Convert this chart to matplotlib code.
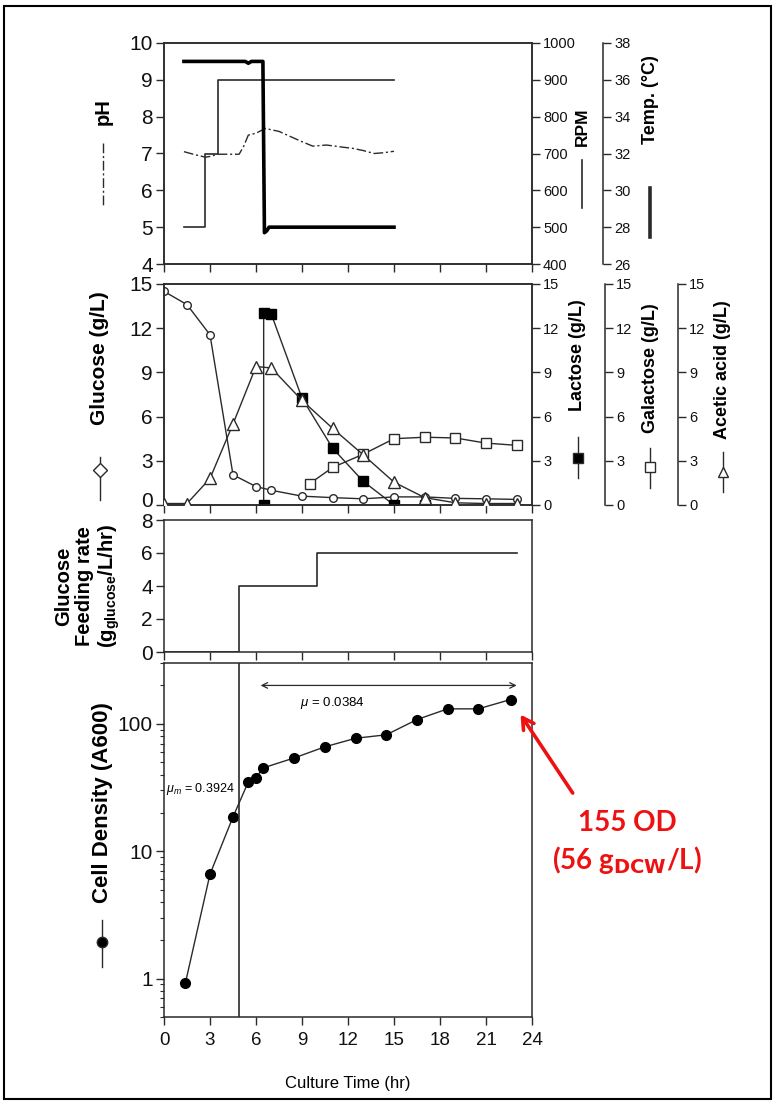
import matplotlib
matplotlib.use("Agg")
import matplotlib.pyplot as plt
import matplotlib.transforms as mtrans
from matplotlib.lines import Line2D
from matplotlib.patches import Rectangle
from matplotlib.ticker import NullFormatter

plt.rcParams['font.family'] = ['Liberation Sans Narrow', 'Liberation Sans', 'DejaVu Sans']
plt.rcParams['mathtext.fontset'] = 'custom'
plt.rcParams['mathtext.rm'] = 'Liberation Sans'
plt.rcParams['mathtext.it'] = 'Liberation Sans:italic'

# ---- panel 1: on-line data (pH, agitation, temperature)
ph_time = [1.3, 2.0, 2.7, 3.0, 3.5, 4.2, 4.9, 5.2, 5.5, 6.0, 6.6, 7.5, 8.3, 9.0, 9.7, 10.6, 11.5, 12.3, 13.0, 13.7, 14.3, 15.0]
ph = [7.05, 6.97, 6.9, 6.92, 6.98, 6.98, 6.98, 7.2, 7.5, 7.55, 7.68, 7.6, 7.45, 7.32, 7.2, 7.23, 7.18, 7.14, 7.08, 7.0, 7.02, 7.06]
rpm_time = [1.3, 2.7, 3.5, 15.0]
rpm = [500, 700, 900, 900]
temp_time = [1.3, 5.3, 5.5, 5.7, 6.45, 6.55, 6.7, 6.85, 15.0]
temp = [37.0, 37.0, 36.9, 37.0, 37.0, 27.7, 27.8, 28.0, 28.0]

# ---- panel 2: off-line metabolites (g/L)
glc_time = [0, 1.5, 3, 4.5, 6, 7, 9, 11, 13, 15, 17, 19, 21, 23]
glucose = [14.5, 13.6, 11.55, 2.05, 1.25, 1.0, 0.6, 0.5, 0.42, 0.55, 0.55, 0.45, 0.42, 0.38]
lac_time = [6.5, 6.5, 7, 9, 11, 13, 15, 17]
lactose = [0, 13.0, 12.95, 7.25, 3.85, 1.6, 0, 0]
gal_time = [9.5, 11, 13, 15, 17, 19, 21, 23]
galactose = [1.45, 2.55, 3.45, 4.5, 4.6, 4.55, 4.2, 4.05]
ace_time = [0, 1.5, 3, 4.5, 6, 7, 9, 11, 13, 15, 17, 19, 21, 23]
acetate = [0.1, 0.1, 1.8, 5.5, 9.4, 9.3, 7.1, 5.2, 3.4, 1.55, 0.5, 0.15, 0.1, 0.1]

# ---- panel 3: glucose feeding rate
feed_time = [0, 4.9, 10, 23]
feed_rate = [0, 4, 6, 6]

# ---- panel 4: cell density
od_time = [1.4, 3.0, 4.5, 5.5, 6.0, 6.45, 8.5, 10.5, 12.5, 14.5, 16.5, 18.5, 20.5, 22.6]
od = [0.93, 6.6, 18.6, 35, 37.5, 45, 54, 66, 77, 82, 108, 131, 131, 155]

xticks = list(range(0, 25, 3))
LC = '#2a2a2a'


def bold(size):
    return dict(family='Liberation Sans', fontweight='bold', fontsize=size, rotation=90,
                ha='center', va='center')


fig = plt.figure(figsize=(7.75, 11.03), dpi=100)
fig.add_artist(Rectangle((0.005, 0.004), 0.99, 0.991, transform=fig.transFigure,
                         fill=False, lw=1.5, ec='black'))

L, W = 164 / 775, 368 / 775


def panel(top, bottom):
    return fig.add_axes([L, 1 - bottom / 1103, W, (bottom - top) / 1103])


def style(ax, size=15):
    for s in ax.spines.values():
        s.set_color(LC)
        s.set_linewidth(1.1)
    ax.tick_params(direction='out', length=5.5, width=1, colors=LC, labelsize=size,
                   labelcolor='#111', pad=2.5)


def offset_twin(ax, pos):
    t = ax.twinx()
    for s in ['left', 'top', 'bottom']:
        t.spines[s].set_visible(False)
    t.spines['right'].set_position(('axes', pos))
    return t


def key(ax, x, y0, y1, marker=None, mpos=None, **kw):
    ax.add_artist(Line2D([x, x], [y0, y1], transform=ax.transAxes, clip_on=False,
                         color=LC, **kw))
    if marker:
        ym = (y0 + y1) / 2 if mpos is None else mpos
        ax.add_artist(Line2D([x], [ym], transform=ax.transAxes, clip_on=False,
                             marker=marker[0], ms=7.5, mfc=marker[1], mec=LC, ls='none'))


# ================= panel 1
ax1 = panel(43, 264)
ax1.plot(ph_time, ph, color=LC, lw=1, ls=(0, (7, 2, 1.5, 2)))
ax1.set_ylim(4, 10)
ax1.set_yticks(range(4, 11))
ax_rpm = ax1.twinx()
ax_rpm.plot(rpm_time, rpm, color=LC, lw=1.2, drawstyle='steps-post')
ax_rpm.set_ylim(400, 1000)
ax_rpm.set_yticks(range(400, 1001, 100))
ax_t = offset_twin(ax1, 1.193)
ax_t.plot(temp_time, temp, color='black', lw=2.6)
ax_t.set_ylim(26, 38)
ax_t.set_yticks(range(26, 39, 2))
for a in (ax1, ax_rpm, ax_t):
    style(a, 15 if a is ax1 else 10.5)
ax1.text(-0.166, 0.688, 'pH', transform=ax1.transAxes, **bold(14.5))
key(ax1, -0.166, 0.548, 0.258, lw=1, ls=(0, (7, 2, 1.5, 2)))
ax1.text(1.136, 0.62, 'RPM', transform=ax1.transAxes, **bold(12.5))
key(ax1, 1.136, 0.471, 0.253, lw=1.2)
ax1.text(1.321, 0.742, 'Temp. (°C)', transform=ax1.transAxes, **bold(13))
key(ax1, 1.321, 0.344, 0.122, lw=2.6)

# ================= panel 2
ax2 = panel(284, 505)
ax2.plot(glc_time, glucose, color=LC, lw=1, marker='o', ms=5.5, mfc='white', mec=LC)
ax2.set_ylim(0, 15)
ax2.set_yticks(range(0, 16, 3))
ax_lac = ax2.twinx()
ax_lac.plot(lac_time, lactose, color=LC, lw=1, marker='s', ms=7, mfc='black', mec='black')
ax_gal = offset_twin(ax2, 1.198)
ax_gal.plot(gal_time, galactose, color=LC, lw=1, marker='s', ms=7.5, mfc='white', mec=LC)
ax_ace = offset_twin(ax2, 1.397)
ax_ace.plot(ace_time, acetate, color=LC, lw=1, marker='^', ms=8.5, mfc='white', mec=LC)
for a in (ax_lac, ax_gal, ax_ace):
    a.set_ylim(0, 15)
    a.set_yticks(range(0, 16, 3))
for a in (ax2, ax_lac, ax_gal, ax_ace):
    style(a, 15 if a is ax2 else 10.5)
# lift the "0" a little so it clears the "8" of the feeding panel
zero = ax2.yaxis.get_major_ticks()[0].label1
zero.set_transform(zero.get_transform() + mtrans.ScaledTranslation(0, 4 / 72, fig.dpi_scale_trans))
ax2.text(-0.174, 0.665, 'Glucose (g/L)', transform=ax2.transAxes, **bold(15))
key(ax2, -0.174, 0.217, 0.023, marker=('D', 'white'), mpos=0.158, lw=1)
ax2.text(1.125, 0.679, 'Lactose (g/L)', transform=ax2.transAxes, **bold(13))
key(ax2, 1.125, 0.308, 0.12, marker=('s', 'black'), mpos=0.213, lw=1)
ax2.text(1.321, 0.62, 'Galactose (g/L)', transform=ax2.transAxes, **bold(13))
key(ax2, 1.321, 0.258, 0.077, marker=('s', 'white'), mpos=0.172, lw=1)
ax2.text(1.519, 0.611, 'Acetic acid (g/L)', transform=ax2.transAxes, **bold(13))
key(ax2, 1.519, 0.24, 0.059, marker=('^', 'white'), mpos=0.15, lw=1)

# ================= panel 3
ax3 = panel(520, 652)
ax3.plot(feed_time, feed_rate, color=LC, lw=1.2, drawstyle='steps-post')
ax3.set_ylim(0, 8)
ax3.set_yticks(range(0, 9, 2))
style(ax3)
ax3.text(-0.207, 0.50, 'Glucose\nFeeding rate\n(g$_{\\mathregular{glucose}}$/L/hr)',
         transform=ax3.transAxes, linespacing=1.12, multialignment='center', **bold(14.5))

# ================= panel 4
ax4 = panel(663, 1017)
ax4.plot(od_time, od, color=LC, lw=1, marker='o', ms=7, mfc='black', mec='black')
ax4.set_yscale('log')
ax4.set_ylim(0.5, 300)
ax4.set_yticks([1, 10, 100])
ax4.set_yticklabels(['1', '10', '100'])
ax4.yaxis.set_minor_formatter(NullFormatter())
ax4.axvline(4.9, color=LC, lw=1.2)
ax4.annotate('', xy=(6.3, 200), xytext=(23.0, 200),
             arrowprops=dict(arrowstyle='<->', lw=0.9, color=LC, shrinkA=0, shrinkB=0))
ax4.text(8.9, 146, r'$\mu$ = 0.0384', fontsize=9.5, va='center')
ax4.text(0.12, 31, r'$\mu_m$ = 0.3924', fontsize=9, va='center')
style(ax4)
ax4.tick_params(axis='x', labelsize=13.5, pad=5)
ax4.tick_params(axis='y', which='minor', length=3, width=0.8, colors=LC)
ax4.set_xlabel('Culture Time (hr)', fontsize=12, labelpad=20)
ax4.text(-0.168, 0.605, 'Cell Density (A600)', transform=ax4.transAxes, **bold(16))
key(ax4, -0.168, 0.274, 0.141, marker=('o', 'black'), mpos=0.212, lw=1)

for a in (ax1, ax2, ax3, ax4):
    a.set_xlim(0, 24)
    a.set_xticks(xticks)
    a.tick_params(axis='x', labelbottom=a is ax4)

# red call-out for the final cell density
ax4.annotate('', xy=(od_time[-1], od[-1]), xytext=(0.739, 0.281), textcoords='figure fraction',
             arrowprops=dict(arrowstyle='->,head_length=0.8,head_width=0.45', color='#ee1111',
                             lw=2.6, shrinkA=0, shrinkB=13))
fig.text(0.809, 0.254, '155 OD', color='#ee1111', fontsize=20, fontweight='bold',
         family='Lato', ha='center', va='center')
fig.text(0.809, 0.220, r'(56 g$_{\mathbf{DCW}}$/L)', color='#ee1111', fontsize=20,
         fontweight='bold', family='Lato', ha='center', va='center')

fig.savefig('out.png', dpi=100)
